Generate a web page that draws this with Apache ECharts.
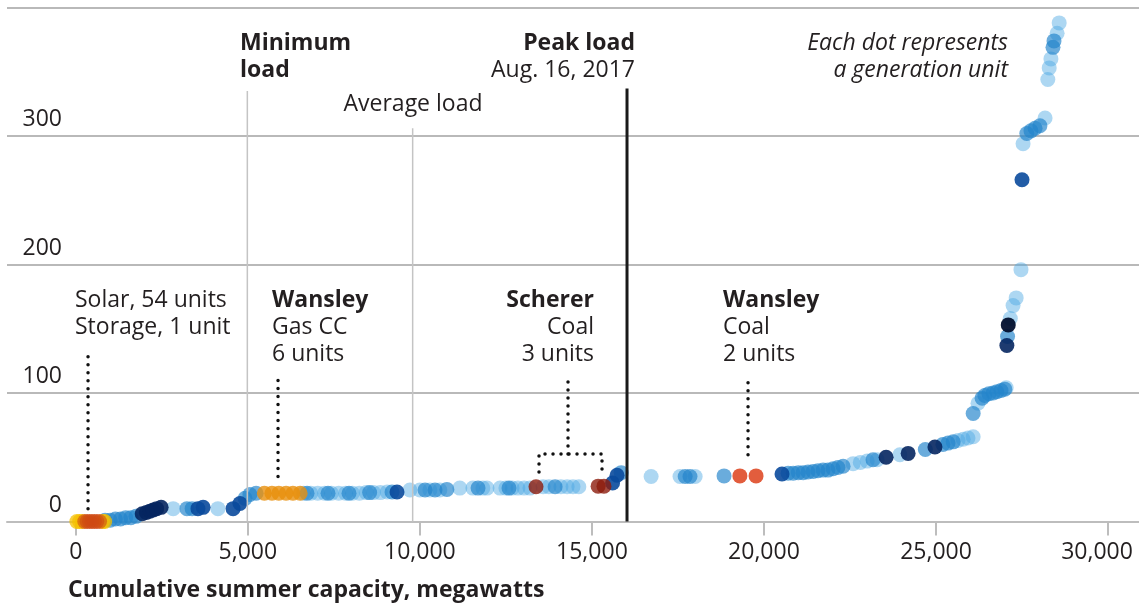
<!DOCTYPE html>
<html>
<head>
<meta charset="utf-8">
<script src="https://cdn.jsdelivr.net/npm/echarts@6/dist/echarts.min.js"></script>
<style>
  html, body { margin: 0; padding: 0; background: #fff; }
  #main { width: 1139px; height: 611px; }
</style>
</head>
<body>
<div id="main"></div>
<script>
// [cumulative MW, $ per MWh] for each generation unit, grouped by dot colour
var solarYellow = [[30, 0], [110, 0], [190, 0], [780, 0], [840, 0]];
var solarOrange = [[260, 0], [330, 0], [400, 0], [470, 0], [540, 0], [610, 0], [690, 0]];
var gasCC = [[5480, 22], [5700, 22], [5900, 22], [6110, 22], [6310, 22], [6520, 22]];
var schererCoal = [[13375, 27], [15180, 27.5], [15350, 27.5]];
var wansleyCoal = [[19300, 35.5], [19770, 35.5]];

var lightUnits = [
  [2830, 10], [4130, 10],
  [6620, 22], [6830, 22], [7030, 22], [7230, 22], [7430, 22], [7640, 22], [7840, 22],
  [8040, 22], [8240, 22], [8440, 22.5], [8650, 22.5], [8850, 22.5], [9050, 23],
  [9710, 24.5], [10000, 24.5], [10290, 24.5], [10580, 24.5],
  [11160, 26], [11540, 26], [11830, 26], [11950, 26],
  [12330, 26], [12500, 26], [12680, 26], [12850, 26], [13030, 26], [13200, 26],
  [13580, 27], [13750, 27], [14100, 27], [14280, 27], [14450, 27], [14620, 27],
  [16720, 35], [17560, 35], [18000, 35],
  [22590, 45], [22800, 46], [23000, 47], [23290, 48], [23950, 52],
  [25640, 63], [25790, 64], [25930, 65], [26080, 66],
  [26220, 92], [27040, 104],
  [27160, 158], [27240, 168], [27330, 174], [27470, 196],
  [27530, 294], [28170, 314], [28250, 344], [28290, 353], [28340, 360], [28520, 380], [28580, 388]
];
var midUnits = [
  [850, 1], [1000, 1], [1150, 2], [1300, 2], [1450, 3], [1600, 3], [1750, 4],
  [3230, 10], [3380, 10],
  [4920, 18], [5060, 21], [5240, 22],
  [6720, 22], [7330, 22], [7940, 22], [8540, 22.5], [9190, 23],
  [10150, 24.5], [10440, 24.5], [10785, 25],
  [11690, 26], [12590, 26], [13930, 27],
  [15850, 38],
  [17710, 35], [17850, 35], [18840, 35.5],
  [20700, 37.5], [20850, 37.5], [21000, 38], [21140, 38], [21280, 38.5], [21430, 39],
  [21570, 39.5], [21720, 40], [21860, 40], [22010, 41], [22150, 42], [22300, 43],
  [23170, 48],
  [24690, 56], [25200, 60], [25350, 61], [25500, 62],
  [26080, 84], [26340, 96], [26420, 98], [26540, 99.5], [26660, 100], [26770, 101],
  [26890, 102], [27000, 103],
  [27080, 144],
  [27640, 302], [27760, 304], [27880, 306], [28020, 308], [28400, 369], [28430, 374]
];
var darkUnits = [
  [3550, 10], [3700, 11], [4570, 10], [4770, 14],
  [9335, 23], [15600, 30], [15730, 36], [20525, 37], [27500, 266]
];
var navyUnits = [
  [1930, 6], [2050, 7], [2150, 8], [2250, 9], [2350, 10], [2480, 11],
  [23550, 50], [24190, 53], [24970, 58], [27060, 137]
];
var darkestUnits = [[27100, 153]];

// load markers: [MW, top of line in $/MWh]
var minimumLoad = [4985, 335];
var averageLoad = [9790, 306];
var peakLoad = [16020, 337];

// dotted callouts, in chart units
var solarCallout = [[355, 10], [355, 132]];
var gasCallout = [[5877, 35], [5877, 115]];
var schererBracket = [[13462, 38.6], [13462, 52.6], [15293, 52.6], [15293, 38.6]];
var schererStem = [[14305, 52.6], [14305, 114]];
var coalCallout = [[19537, 52], [19537, 114]];

var xTicks = [0, 5000, 10000, 15000, 20000, 25000, 30000];
var yTicks = [0, 100, 200, 300];

var FONT = '"Open Sans", "Noto Sans", sans-serif';
var INK = '#231f20';

function dots(data, color, opacity) {
  return {
    type: 'scatter',
    data: data,
    symbolSize: 15,
    itemStyle: { color: color, opacity: opacity },
    silent: true
  };
}

function rule(data, color, width) {
  return {
    type: 'line',
    data: data,
    symbol: 'none',
    silent: true,
    lineStyle: { color: color, width: width }
  };
}

function dotted(data) {
  return {
    type: 'line',
    data: data,
    symbol: 'none',
    silent: true,
    lineStyle: { color: '#111', width: 3.5, type: [0, 8], cap: 'round' }
  };
}

function label(text, x, y, align, weight, style) {
  return {
    type: 'text',
    x: x,
    y: y,
    silent: true,
    style: {
      text: text,
      fill: INK,
      font: (style || 'normal') + ' ' + (weight || 'normal') + ' 23px ' + FONT,
      align: align,
      textAlign: align,
      verticalAlign: 'middle',
      textVerticalAlign: 'middle'
    }
  };
}

var chart = echarts.init(document.getElementById('main'));

var option = {
  animation: false,
  grid: { left: 7, right: 0, top: 7.5, bottom: 89.5 },
  xAxis: {
    type: 'value',
    min: -2000,
    max: 30900,
    axisLine: { show: true, lineStyle: { color: '#bdbdbd', width: 2 } },
    axisTick: { show: true, customValues: xTicks, length: 14, lineStyle: { color: '#bdbdbd', width: 2 } },
    axisLabel: {
      customValues: xTicks,
      margin: 19,
      color: INK,
      fontFamily: FONT,
      fontSize: 23,
      formatter: function (v) {
        var s = v.toLocaleString('en-US');
        return v === 30000 ? '{r|' + s + '}' : s;
      },
      rich: { r: { fontFamily: FONT, fontSize: 23, color: INK, padding: [0, 22, 0, 0] } }
    },
    splitLine: { show: false }
  },
  yAxis: {
    type: 'value',
    min: 0,
    max: 400,
    interval: 100,
    axisLine: { show: false },
    axisTick: { show: false },
    axisLabel: {
      inside: true,
      customValues: yTicks,
      margin: 55,
      align: 'right',
      verticalAlign: 'bottom',
      padding: [0, 0, 5, 0],
      color: INK,
      fontFamily: FONT,
      fontSize: 23
    },
    splitLine: { show: true, lineStyle: { color: '#b9b9b9', width: 2 } }
  },
  series: [
    rule([[minimumLoad[0], 0], minimumLoad], '#c4c4c4', 1.5),
    rule([[averageLoad[0], 0], averageLoad], '#c4c4c4', 1.5),
    rule([[peakLoad[0], 0], peakLoad], '#1a1a1a', 3),
    dotted(solarCallout),
    dotted(gasCallout),
    dotted(schererBracket),
    dotted(schererStem),
    dotted(coalCallout),
    dots(lightUnits, '#4aa6e2', 0.45),
    dots(midUnits, '#2484cc', 0.68),
    dots(darkUnits, '#0a4a9c', 0.9),
    dots(navyUnits, '#062660', 0.9),
    dots(darkestUnits, '#03102e', 0.95),
    dots(solarYellow, '#f5c000', 0.75),
    dots(solarOrange, '#cf4a12', 0.6),
    dots(gasCC, '#e8900c', 0.8),
    dots(schererCoal, '#8c1c0c', 0.8),
    dots(wansleyCoal, '#e05433', 0.95)
  ],
  graphic: [
    label('Minimum', 240, 43, 'left', 'bold'),
    label('load', 240, 70, 'left', 'bold'),
    label('Average load', 413, 104, 'center'),
    label('Peak load', 635, 43, 'right', 'bold'),
    label('Aug. 16, 2017', 635, 70, 'right'),
    label('Each dot represents', 1008, 43, 'right', 'normal', 'italic'),
    label('a generation unit', 1008, 70, 'right', 'normal', 'italic'),
    label('Solar, 54 units', 75, 300, 'left'),
    label('Storage, 1 unit', 75, 327, 'left'),
    label('Wansley', 272, 300, 'left', 'bold'),
    label('Gas CC', 272, 327, 'left'),
    label('6 units', 272, 354, 'left'),
    label('Scherer', 594, 300, 'right', 'bold'),
    label('Coal', 594, 327, 'right'),
    label('3 units', 594, 354, 'right'),
    label('Wansley', 723, 300, 'left', 'bold'),
    label('Coal', 723, 327, 'left'),
    label('2 units', 723, 354, 'left'),
    label('Cumulative summer capacity, megawatts', 68, 590, 'left', 'bold')
  ]
};

chart.setOption(option);
</script>
</body>
</html>
